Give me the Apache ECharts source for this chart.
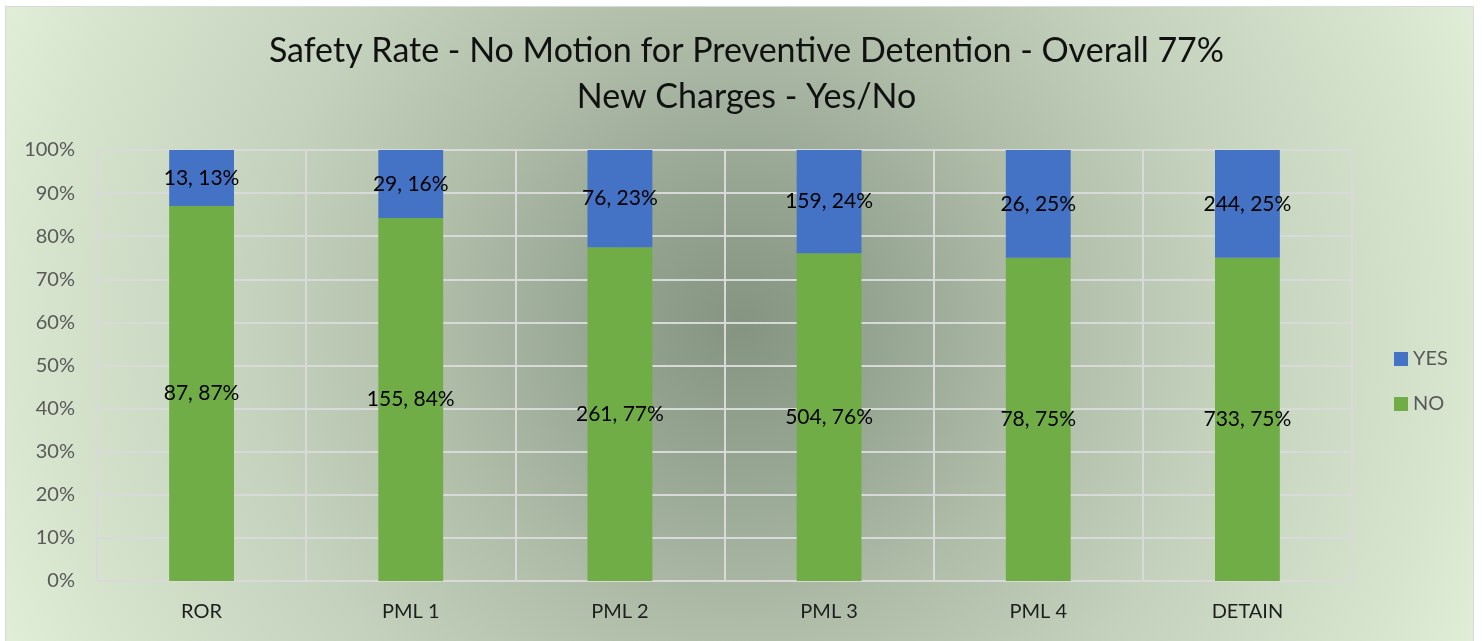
<!DOCTYPE html>
<html>
<head>
<meta charset="utf-8">
<script src="https://cdn.jsdelivr.net/npm/echarts@6/dist/echarts.min.js"></script>
<style>
  html, body { margin: 0; padding: 0; background: #ffffff; overflow: hidden; width: 1482px; height: 641px; }
  #frame {
    position: absolute; left: 5px; top: 6px; width: 1469px; height: 660px;
    box-sizing: border-box; border: 1px solid #d9d9d9; overflow: hidden;
    background: radial-gradient(circle 820px at 735px 318px,
      #859481 0px, #96a592 140px, #aebca8 300px, #c4d2bd 480px, #d6e4ce 700px, #e2efd9 820px);
  }
  #chart { position: absolute; left: 0; top: 0; width: 1481px; height: 658px; }
</style>
</head>
<body>
<div id="frame"><div id="chart"></div></div>
<script>
const categories = ['ROR', 'PML 1', 'PML 2', 'PML 3', 'PML 4', 'DETAIN'];
const noCounts = [87, 155, 261, 504, 78, 733];
const yesCounts = [13, 29, 76, 159, 26, 244];
const yTickLabels = ['0%', '10%', '20%', '30%', '40%', '50%', '60%', '70%', '80%', '90%', '100%'];
const titleLines = ['Safety Rate - No Motion for Preventive Detention - Overall 77%', 'New Charges - Yes/No'];

const totals = categories.map((c, i) => noCounts[i] + yesCounts[i]);
const noPct = noCounts.map((v, i) => v / totals[i] * 100);
const yesPct = yesCounts.map((v, i) => v / totals[i] * 100);

const FONT = 'Lato, "Noto Sans", sans-serif';
const chart = echarts.init(document.getElementById('chart'), null, { renderer: 'canvas' });

function labelFor(counts, pcts) {
  return p => counts[p.dataIndex] + ', ' + Math.round(pcts[p.dataIndex]) + '%';
}

chart.setOption({
  backgroundColor: 'transparent',
  animation: false,
  title: {
    text: titleLines.join('\n'),
    left: 'center',
    top: 21,
    padding: 0,
    textStyle: { fontFamily: FONT, fontSize: 34, fontWeight: 'normal', color: '#111', lineHeight: 46 }
  },
  legend: {
    orient: 'vertical',
    left: 1388,
    top: 342,
    padding: 0,
    itemWidth: 14,
    itemHeight: 14,
    itemGap: 25,
    icon: 'rect',
    data: ['YES', 'NO'],
    textStyle: { fontFamily: FONT, fontSize: 20, color: '#595959' }
  },
  grid: { left: 91, top: 143, width: 1255, height: 431, containLabel: false },
  xAxis: {
    type: 'category',
    data: categories,
    boundaryGap: true,
    axisLine: { show: false },
    axisTick: { show: false },
    splitLine: { show: true, lineStyle: { color: '#d9d9d9', width: 2 } },
    axisLabel: { fontFamily: FONT, fontSize: 20, color: '#1e1e1e', margin: 21 }
  },
  yAxis: {
    type: 'value',
    min: 0,
    max: 100,
    interval: 10,
    axisLine: { show: false },
    axisTick: { show: false },
    splitLine: { show: true, lineStyle: { color: '#d9d9d9', width: 2 } },
    axisLabel: {
      fontFamily: FONT, fontSize: 20, color: '#595959', margin: 22,
      formatter: (v) => yTickLabels[Math.round(v / 10)]
    }
  },
  series: [
    {
      name: 'NO', type: 'bar', stack: 'total', barWidth: '31%',
      data: noPct,
      itemStyle: { color: '#70AD47' },
      label: { show: true, position: 'inside', formatter: labelFor(noCounts, noPct),
        fontFamily: FONT, fontSize: 21, color: '#000' }
    },
    {
      name: 'YES', type: 'bar', stack: 'total', barWidth: '31%',
      data: yesPct,
      itemStyle: { color: '#4472C4' },
      label: { show: true, position: 'inside', formatter: labelFor(yesCounts, yesPct),
        fontFamily: FONT, fontSize: 21, color: '#000' }
    }
  ]
});
</script>
</body>
</html>
